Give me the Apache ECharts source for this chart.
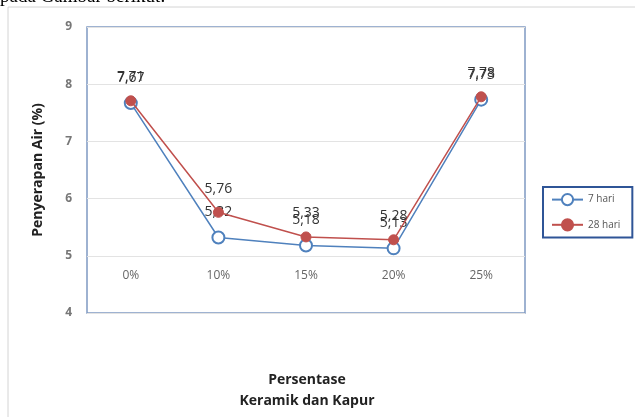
<!DOCTYPE html>
<html>
<head>
<meta charset="utf-8">
<script src="https://cdn.jsdelivr.net/npm/echarts@6/dist/echarts.min.js"></script>
<style>html,body{margin:0;padding:0;background:#fff}#c{width:635px;height:417px}</style>
</head>
<body>
<div id="c"></div>
<script>
var categories = ['0%', '10%', '15%', '20%', '25%'];
var hari7 = [7.67, 5.32, 5.18, 5.13, 7.73];
var hari28 = [7.71, 5.76, 5.33, 5.28, 7.78];
var seriesNames = ['7 hari', '28 hari'];
var yTitle = 'Penyerapan Air (%)';
var xTitle = 'Persentase\nKeramik dan Kapur';

var chart = echarts.init(document.getElementById('c'), null, {renderer: 'canvas'});
var fmt = function (p) { return String(p.value).replace('.', ','); };
var lbl = {show: true, position: 'top', distance: 11, color: '#333', fontSize: 14, fontFamily: 'Open Sans', formatter: fmt};
chart.setOption({
  animation: false,
  backgroundColor: '#fff',
  graphic: [
    {type: 'rect', shape: {x: 8, y: 7, width: 640, height: 420}, style: {fill: 'none', stroke: '#d4d4d4', lineWidth: 1}, z: 0},
    {type: 'text', x: 0, y: 7, style: {text: 'pada Gambar berikut.', font: '19px "Liberation Serif"', fill: '#000', textVerticalAlign: 'bottom'}},
    {type: 'text', x: 307, y: 391, style: {text: xTitle, font: 'bold 14px "Open Sans"', fill: '#222', textAlign: 'center', textVerticalAlign: 'middle', lineHeight: 21}}
  ],
  grid: {left: 87, top: 27, width: 438, height: 286, show: true, borderColor: '#7f99c2', borderWidth: 1.5, backgroundColor: 'transparent'},
  legend: {
    orient: 'vertical', left: 543, top: 187, width: 90,
    padding: [6, 12, 6, 8], itemGap: 12, itemWidth: 31, itemHeight: 14,
    borderColor: '#2f5597', borderWidth: 2,
    textStyle: {fontSize: 10, color: '#555', fontFamily: 'Open Sans'},
    data: seriesNames
  },
  xAxis: {
    type: 'category', data: categories, boundaryGap: true, offset: -43,
    axisLine: {show: false}, axisTick: {show: false},
    axisLabel: {margin: 0, color: '#666', fontSize: 12, fontFamily: 'Open Sans'}
  },
  yAxis: {
    type: 'value', min: 4, max: 9, interval: 1,
    name: yTitle, nameLocation: 'middle', nameRotate: 90, nameGap: 42,
    nameTextStyle: {fontWeight: 'bold', fontSize: 14, color: '#222', fontFamily: 'Open Sans'},
    axisLine: {show: false}, axisTick: {show: false},
    axisLabel: {margin: 15, color: '#777', fontWeight: 'bold', fontSize: 12, fontFamily: 'Open Sans'},
    splitLine: {lineStyle: {color: '#e3e3e3', width: 1}}
  },
  series: [
    {name: seriesNames[0], type: 'line', data: hari7, symbol: 'circle', symbolSize: 12,
     itemStyle: {color: '#fff', borderColor: '#4f81bd', borderWidth: 2},
     lineStyle: {color: '#4f81bd', width: 1.5}, label: lbl, z: 2},
    {name: seriesNames[1], type: 'line', data: hari28, symbol: 'circle', symbolSize: 10,
     itemStyle: {color: '#c0504d', borderColor: '#c0504d', borderWidth: 1},
     lineStyle: {color: '#c0504d', width: 1.5}, label: lbl, z: 3}
  ]
});
</script>
</body>
</html>
